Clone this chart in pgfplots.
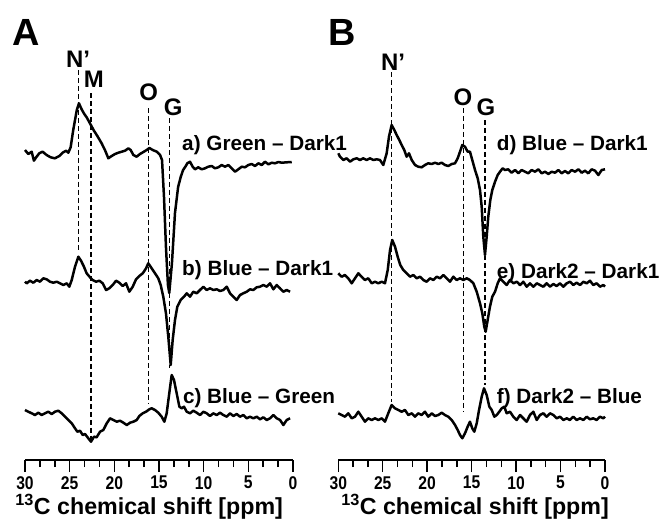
\documentclass[border=0pt]{standalone}
\usepackage{fontspec}
\setmainfont{Liberation Sans}
\usepackage{pgfplots}
\usepackage{pgfplotstable}
\pgfplotsset{compat=1.18}

% 13C difference spectra, stacked; intensity in arbitrary units
% Panel A
\pgfplotstableread{
ppm I
30.0 310
29.63 306
29.25 308.3
29.0 299.3
28.7 303.3
28.4 306.7
28.03 308.3
27.58 305
27.13 302.7
26.65 301.7
26.16 304
25.79 307.3
25.4 309.3
25.15 307.3
24.89 312.7
24.6 330
24.2 350
23.96 356.7
23.66 350.7
23.36 346
23.1 342.7
22.73 336.7
22.28 329.3
21.9 324
21.42 316.7
21.05 310
20.67 301.7
20.3 304
19.92 306
19.55 307.3
19.18 308.3
18.8 309.3
18.43 311.7
18.17 310
17.87 305
17.5 303.3
17.13 306
16.75 308
16.38 310
16.08 312
15.7 310
15.25 308.3
14.88 305
14.66 300
14.44 263
14.22 213
14.0 175
13.85 167
13.55 197
13.21 247
12.86 273
12.57 283
12.3 290
12.0 294
11.83 296.7
11.53 298.3
11.23 293.3
10.97 290.7
10.6 292.7
10.22 290.7
9.85 291.7
9.48 293.3
9.1 294
8.73 291.7
8.36 292.7
7.98 295
7.61 293.3
7.24 295
6.86 291.7
6.49 288.3
6.12 290.7
5.74 293.3
5.37 292.7
5.0 295
4.62 296
4.25 294
3.88 296.7
3.5 295
3.13 298.3
2.76 295.7
2.38 297.3
2.01 296.7
1.64 298
1.26 297.3
0.7 297.7
0.14 298
}\specA

\pgfplotstableread{
ppm I
30.0 178.3
29.81 176.7
29.44 179.3
29.07 177.3
28.69 180
28.32 178.3
27.95 181.7
27.57 180.7
27.2 178.3
26.83 177.3
26.45 178.3
26.08 176.7
25.71 175
25.33 176.7
25.04 173.3
24.77 180
24.4 193.3
24.03 203.3
23.73 199.3
23.4 193.3
23.1 186.7
22.72 182.7
22.42 180
22.05 178.3
21.68 179.3
21.3 176.7
20.93 170
20.56 171.7
20.18 175
19.81 179.3
19.44 177.3
19.06 174
18.69 176.7
18.32 168.3
17.94 173.3
17.57 180.7
17.2 184
16.82 186.7
16.45 191.7
16.2 196.7
15.82 191.7
15.45 186.7
15.08 181.7
14.81 175
14.52 163.3
14.22 146.7
13.96 123.3
13.69 95
13.47 120
13.21 140
12.95 153.3
12.57 160
12.2 163.3
11.9 166.7
11.53 163.3
11.16 168.3
10.78 166.7
10.41 170
10.04 173.3
9.66 170
9.29 171.7
8.92 170
8.54 170.7
8.17 169
7.8 170
7.42 173.3
7.05 166.7
6.68 163.3
6.3 160
5.93 165
5.56 166.7
5.18 168.3
4.81 170.7
4.44 170
4.06 172.7
3.69 173.3
3.32 175
2.94 173.3
2.57 176.7
2.2 170.7
1.82 175
1.45 171.7
1.08 168.3
0.7 170
0.33 168.3
}\specB

\pgfplotstableread{
ppm I
30.0 50
29.63 48.3
29.25 46.7
28.88 45
28.51 47.3
28.13 45
27.76 46.7
27.39 48.3
27.01 46
26.64 48.3
26.27 49.3
25.89 46.7
25.52 43.3
25.15 40
24.77 36.7
24.4 31.7
24.14 28.3
23.84 29.3
23.54 25
23.28 26
22.91 21.7
22.61 18.3
22.28 23.3
21.98 22.7
21.6 28.3
21.23 30
20.85 36.7
20.48 41.7
20.11 40
19.73 38.3
19.36 39.3
18.99 37.3
18.61 35
18.24 37.3
17.87 38.3
17.49 40
17.2 44
16.82 46.7
16.45 48.3
16.08 50.7
15.82 51.7
15.45 50
15.08 47.3
14.7 43.3
14.4 38.3
14.14 46.7
13.85 66.7
13.58 85
13.32 80
13.02 66.7
12.72 53.3
12.46 51.7
12.2 53.3
11.9 48.3
11.53 46.7
11.16 49.3
10.78 47.3
10.41 45
10.04 48.3
9.66 46.7
9.29 44
8.92 46.7
8.54 45
8.17 47.3
7.8 45
7.42 43.3
7.05 46.7
6.68 44
6.3 46
5.93 43.3
5.56 45
5.18 41.7
4.81 43.3
4.44 41.7
4.06 43.3
3.69 40.7
3.32 42.7
2.94 40
2.57 41.7
2.2 45
1.82 41.7
1.45 40
1.08 35
0.7 40
0.33 41.7
}\specC

% Panel B
\pgfplotstableread{
ppm I
30.0 306.7
29.81 303.3
29.44 300
29.06 301.7
28.68 298.3
28.31 300.7
27.93 301.7
27.56 300
27.19 301.7
26.81 300
26.43 301.7
26.06 300
25.68 300.7
25.31 300
24.94 295
24.56 306.7
24.3 323.3
24.0 335
23.7 330
23.43 325
23.14 320
22.87 315
22.58 310
22.31 303.3
22.05 306.7
21.74 300
21.37 295
21.0 293.3
20.62 292.7
20.25 295
19.88 296.7
19.49 296
19.12 297.3
18.75 296
18.37 297.3
18.0 295
17.63 294
17.24 296
16.87 296.7
16.57 301.7
16.31 308.3
16.05 315
15.75 313.3
15.45 308.3
15.19 308.3
14.93 300
14.62 290
14.32 281.7
14.06 270
13.87 253.3
13.69 223.3
13.5 205
13.31 223.3
13.13 243.3
12.9 260
12.68 270
12.37 278.3
12.07 285
11.81 288.3
11.51 291.7
11.25 290
10.88 290.7
10.5 287.3
10.12 290
9.75 286.7
9.37 290
9.0 288.3
8.63 286.7
8.25 290
7.87 288.3
7.5 290.7
7.12 286.7
6.75 288.3
6.37 286
6.0 288.3
5.62 287.3
5.25 290
4.88 286.7
4.5 289
4.13 286.7
3.75 290
3.37 288.3
3.0 290.7
2.62 287.3
2.25 289.3
1.88 286.7
1.5 290.7
1.12 289.3
0.75 285
0.37 290
0.0 290.7
}\specD

\pgfplotstableread{
ppm I
30.0 186.7
29.62 183.3
29.25 185
28.88 181.7
28.49 176.7
28.12 181.7
27.75 186.7
27.37 183.3
27.0 180
26.63 181.7
26.24 176.7
25.87 178.3
25.5 176.7
25.12 178.3
24.75 176.7
24.44 190
24.18 210
23.93 220
23.62 213.3
23.32 203.3
23.03 195
22.69 190
22.31 186.7
21.93 183.3
21.56 185
21.18 181.7
20.81 183.3
20.44 180
20.06 178.3
19.68 181.7
19.31 180
18.93 183.3
18.56 181.7
18.19 185
17.81 181.7
17.44 178.3
17.06 183.3
16.68 180
16.31 181.7
15.94 180
15.56 181.7
15.19 180
14.81 176.7
14.43 168.3
14.06 156.7
13.8 146.7
13.58 133.3
13.42 128.3
13.2 140
12.94 153.3
12.68 163.3
12.37 168.3
12.07 176.7
11.81 181.7
11.44 178.3
11.06 175
10.69 180
10.31 176.7
9.93 178.3
9.56 175
9.19 178.3
8.81 173.3
8.44 176.7
8.06 173.3
7.68 176.7
7.31 175
6.94 173.3
6.56 176.7
6.19 173.3
5.81 176
5.44 174
5.06 176.7
4.69 173.3
4.31 176.7
3.94 178.3
3.57 175
3.19 177.3
2.81 175
2.44 178.3
2.06 176.7
1.69 179.3
1.32 175
0.94 176.7
0.56 173.3
0.19 175
0.0 173.3
}\specE

\pgfplotstableread{
ppm I
30.0 46.7
29.62 45
29.25 43.3
28.88 46.7
28.49 41.7
28.12 43.3
27.75 48.3
27.37 43.3
27.0 38.3
26.63 41.7
26.24 40
25.87 41.7
25.5 40
25.12 41.7
24.75 38.3
24.38 46.7
24.0 55
23.62 51.7
23.25 50
22.87 48.3
22.5 50
22.12 45
21.74 46.7
21.37 43.3
21.0 46.7
20.62 45
20.25 48.3
19.88 43.3
19.49 46.7
19.12 44
18.75 45
18.37 47.3
18.0 45
17.63 43.3
17.24 40
16.87 35
16.57 30
16.31 25
16.05 21.7
15.75 26.7
15.45 33.3
15.19 38.3
14.93 31.7
14.7 28.3
14.43 36.7
14.17 50
13.87 63.3
13.61 71.7
13.31 65
13.01 53.3
12.74 50
12.45 43.3
12.18 45
11.89 48.3
11.62 51.7
11.33 53.3
11.06 46.7
10.69 48.3
10.31 43.3
9.93 40
9.56 45
9.19 41.7
8.81 38.3
8.44 45
8.06 48.3
7.68 40
7.31 45
6.94 46.7
6.56 43.3
6.19 46.7
5.81 45
5.44 41.7
5.06 43.3
4.69 40
4.31 41.7
3.94 40
3.57 43.3
3.19 40
2.81 41.7
2.44 40
2.06 43.3
1.69 40.7
1.32 41.7
0.94 40
0.56 43.3
0.19 41.7
0.0 43.3
}\specF

\newcommand{\tl}[1]{\scalebox{0.85}[1]{#1}}

\pgfplotsset{
  nmrpanel/.style={
    scale only axis, anchor=south west,
    width=268bp, height=460bp,
    xmin=0, xmax=30, x dir=reverse,
    ymin=0, ymax=460,
    clip=false,
    axis y line=none,
    axis x line*=bottom,
    x axis line style={-, line width=1.7pt},
    xtick={0,5,10,15,20,25,30},
    xticklabels={\tl{0},\tl{5},\tl{10},\tl{15},\tl{20},\tl{25},\tl{30}},
    minor x tick num=2,
    tick align=outside,
    major tick length=12bp,
    minor tick length=7bp,
    tick style={black, line width=1.5pt},
    xticklabel style={font=\bfseries\fontsize{18.5}{18.5}\selectfont, inner sep=1pt, yshift=-3bp},
  },
  trace/.style={black, line width=2.5pt, line join=round},
  guide/.style={black, line width=1.4pt, dash pattern=on 5pt off 3pt},
}
\newcommand{\peakfont}{\bfseries\fontsize{24}{25}\selectfont}
\newcommand{\labfont}{\bfseries\fontsize{20.8}{22}\selectfont}
\newcommand{\axfont}{\bfseries\fontsize{23.3}{25}\selectfont}
\newcommand{\panfont}{\bfseries\fontsize{38}{40}\selectfont}

\begin{document}
\begin{tikzpicture}
\useasboundingbox (0bp,0bp) rectangle (660bp,-530bp);

% ---------------- Panel A ----------------
\begin{axis}[nmrpanel, at={(25bp,-460bp)}]
  \addplot[guide] coordinates {(24.0,390) (24.0,207)};
  \addplot[guide] coordinates {(22.6,367) (22.6,20)};
  \addplot[guide] coordinates {(16.2,352) (16.2,56)};
  \addplot[guide] coordinates {(13.8,342) (13.8,92)};
  \addplot[trace] table[x=ppm, y=I] {\specA};
  \addplot[trace] table[x=ppm, y=I] {\specB};
  \addplot[trace] table[x=ppm, y=I] {\specC};
  \node[anchor=base, font=\peakfont] at (axis cs:24.06,393) {N’};
  \node[anchor=base, font=\peakfont] at (axis cs:22.3,373) {M};
  \node[anchor=base, font=\peakfont] at (axis cs:16.16,360) {O};
  \node[anchor=base, font=\peakfont] at (axis cs:13.4,345) {G};
  \node[anchor=base west, inner sep=0pt, font=\labfont] at (axis cs:12.42,310) {a) Green – Dark1};
  \node[anchor=base west, inner sep=0pt, font=\labfont] at (axis cs:12.42,185) {b) Blue – Dark1};
  \node[anchor=base west, inner sep=0pt, font=\labfont] at (axis cs:12.33,57) {c) Blue – Green};
  \node[anchor=base, inner sep=0pt, font=\panfont] at (axis cs:29.83,415) {A};
  \node[font=\axfont] at (axis cs:16.1,-47) {\textsuperscript{13}C chemical shift [ppm]};
\end{axis}

% ---------------- Panel B ----------------
\begin{axis}[nmrpanel, at={(338.3bp,-460bp)}, width=266.7bp]
  \addplot[guide] coordinates {(24.0,388) (24.0,58)};
  \addplot[guide] coordinates {(15.9,352) (15.9,48)};
  \addplot[guide] coordinates {(13.5,340) (13.5,75)};
  \addplot[trace] table[x=ppm, y=I] {\specD};
  \addplot[trace] table[x=ppm, y=I] {\specE};
  \addplot[trace] table[x=ppm, y=I] {\specF};
  \node[anchor=base, font=\peakfont] at (axis cs:23.85,390) {N’};
  \node[anchor=base, font=\peakfont] at (axis cs:15.97,355) {O};
  \node[anchor=base, font=\peakfont] at (axis cs:13.4,345) {G};
  \node[anchor=base west, inner sep=0pt, font=\labfont] at (axis cs:12.18,310) {d) Blue – Dark1};
  \node[anchor=base west, inner sep=0pt, font=\labfont] at (axis cs:12.18,182) {e) Dark2 – Dark1};
  \node[anchor=base west, inner sep=0pt, font=\labfont] at (axis cs:12.18,57) {f) Dark2 – Blue};
  \node[anchor=base, inner sep=0pt, font=\panfont] at (axis cs:29.58,415) {B};
  \node[font=\axfont] at (axis cs:14.62,-47) {\textsuperscript{13}C chemical shift [ppm]};
\end{axis}
\end{tikzpicture}
\end{document}
